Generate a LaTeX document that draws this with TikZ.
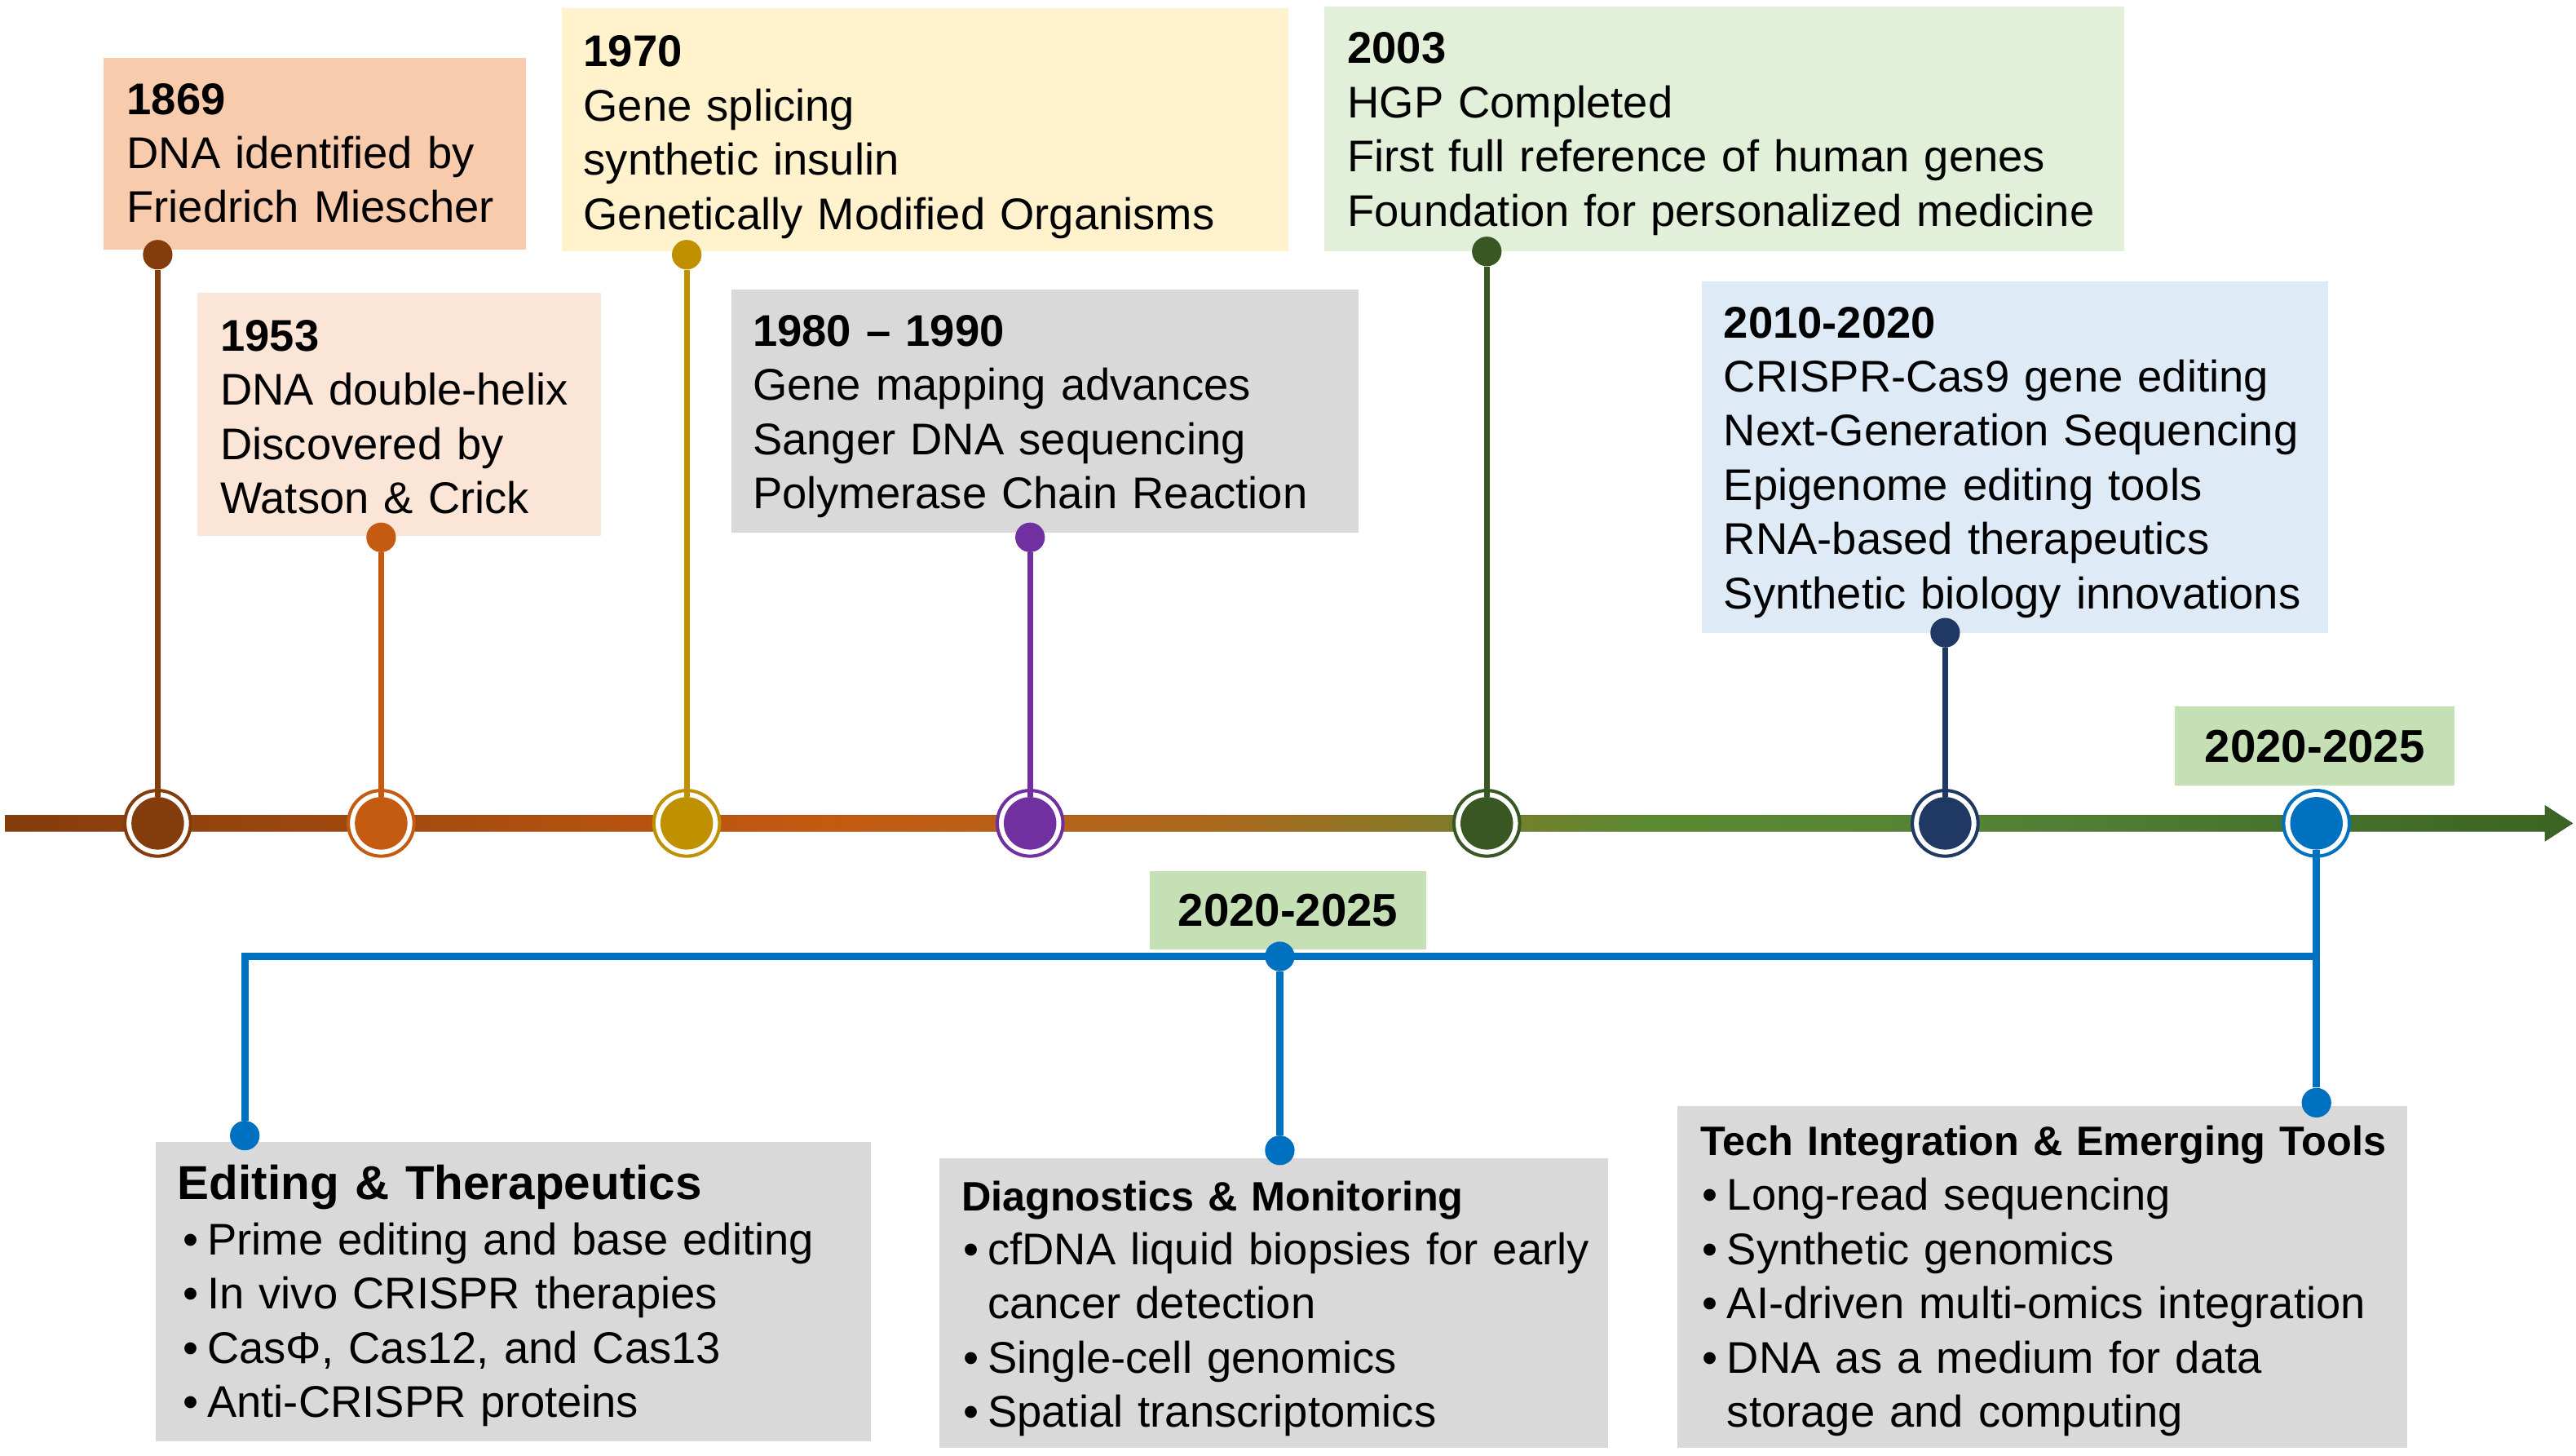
\documentclass[tikz,border=0pt]{standalone}
\usepackage{fontspec}
\setmainfont{Liberation Sans}
\usetikzlibrary{shadings}
\definecolor{cA}{HTML}{843C0C}
\definecolor{cB}{HTML}{C55A11}
\definecolor{cC}{HTML}{BF9000}
\definecolor{cD}{HTML}{7030A0}
\definecolor{cE}{HTML}{385723}
\definecolor{cF}{HTML}{1F3864}
\definecolor{cblue}{HTML}{0070C0}
\definecolor{fA}{HTML}{F8CBAD}
\definecolor{fB}{HTML}{FBE5D6}
\definecolor{fC}{HTML}{FFF2CC}
\definecolor{fD}{HTML}{D9D9D9}
\definecolor{fE}{HTML}{E2F0D9}
\definecolor{fF}{HTML}{DEEBF7}
\definecolor{cyear}{HTML}{C5E0B4}
\definecolor{tlA}{HTML}{843C0C}
\definecolor{tlB}{HTML}{C55A11}
\definecolor{tlC}{HTML}{A86A1E}
\definecolor{tlD}{HTML}{5B8A32}
\definecolor{tlE}{HTML}{548235}
\definecolor{tlF}{HTML}{3B6323}
\pgfdeclarehorizontalshading{tlshade}{100bp}{color(0bp)=(tlA); color(25bp)=(tlA); color(41bp)=(tlB); color(49bp)=(tlC); color(57bp)=(tlD); color(64bp)=(tlE); color(75bp)=(tlF); color(100bp)=(tlF)}
\newcommand\bul{\makebox[15pt][l]{•}}
\begin{document}
\begin{tikzpicture}[x=1pt,y=-1pt,
 box/.style={anchor=north west, inner sep=0pt, outer sep=0pt, draw=none},
 txt/.style={anchor=base west, inner sep=0pt, align=left, text width=520pt, font=\fontsize{27}{33}\selectfont},
 ringn/.style={circle, draw=#1, line width=2pt, fill=white, minimum size=40pt, inner sep=0pt},
 coren/.style={circle, fill=#1, minimum size=32pt, inner sep=0pt},
 tdot/.style={circle, fill=#1, minimum size=18pt, inner sep=0pt},
 stemline/.style={draw=#1, line width=3.5pt},
 blueline/.style={draw=cblue, line width=4.5pt},
 yearlab/.style={fill=cyear, minimum width=170pt, minimum height=48pt, inner sep=0pt, font=\fontsize{28}{33}\selectfont\bfseries},
]
\path[use as bounding box, fill=white] (0,0) rectangle (1568,886);

% upper boxes
\node[box, fill=fA, minimum width=257pt, minimum height=117pt] (bxA) at (63,35) {};
\node[box, fill=fB, minimum width=246pt, minimum height=148pt] (bxB) at (120,178) {};
\node[box, fill=fC, minimum width=442pt, minimum height=148pt] (bxC) at (342,5) {};
\node[box, fill=fD, minimum width=382pt, minimum height=148pt] (bxD) at (445,176) {};
\node[box, fill=fE, minimum width=487pt, minimum height=149pt] (bxE) at (806,4) {};
\node[box, fill=fF, minimum width=381pt, minimum height=214pt] (bxF) at (1036,171) {};

\node[txt] (tA) at (77,69.5) {\textbf{1869}\\DNA identified by\\Friedrich Miescher};
\node[txt] (tB) at (134,213.5) {\textbf{1953}\\DNA double-helix\\Discovered by\\Watson \& Crick};
\node[txt] (tC) at (355,40.5) {\textbf{1970}\\Gene splicing\\synthetic insulin\\Genetically Modified Organisms};
\node[txt] (tD) at (458,210.5) {\textbf{1980 – 1990}\\Gene mapping advances\\Sanger DNA sequencing\\Polymerase Chain Reaction};
\node[txt] (tE) at (820,38.5) {\textbf{2003}\\HGP Completed\\First full reference of human genes\\Foundation for personalized medicine};
\node[txt] (tF) at (1049,205.5) {\textbf{2010-2020}\\CRISPR-Cas9 gene editing\\Next-Generation Sequencing\\Epigenome editing tools\\RNA-based therapeutics\\Synthetic biology innovations};

% year labels
\node[yearlab] (yR) at (1409,454) {2020-2025};
\node[yearlab, minimum width=168pt] (yM) at (784,554) {2020-2025};

% lower boxes
\node[box, fill=fD, minimum width=435pt, minimum height=182pt] (bxG) at (95,695) {};
\node[box, fill=fD, minimum width=407pt, minimum height=176pt] (bxH) at (572,705) {};
\node[box, fill=fD, minimum width=444pt, minimum height=208pt] (bxI) at (1021,673) {};

\node[txt, font=\fontsize{29}{33}\selectfont\bfseries] (gT) at (108,730) {Editing \& Therapeutics};
\node[txt] (gL) at (111,763.5) {\bul Prime editing and base editing\\\bul In vivo CRISPR therapies\\\bul CasΦ, Cas12, and Cas13\\\bul Anti-CRISPR proteins};
\node[txt, font=\fontsize{25}{33}\selectfont\bfseries] (hT) at (585,737) {Diagnostics \& Monitoring};
\node[txt] (hL) at (586,769.5) {\bul cfDNA liquid biopsies for early\\\hspace*{15pt}cancer detection\\\bul Single-cell genomics\\\bul Spatial transcriptomics};
\node[txt, font=\fontsize{25}{33}\selectfont\bfseries] (iT) at (1035,703) {Tech Integration \& Emerging Tools};
\node[txt] (iL) at (1036,736.5) {\bul Long-read sequencing\\\bul Synthetic genomics\\\bul AI-driven multi-omics integration\\\bul DNA as a medium for data\\\hspace*{15pt}storage and computing};

% timeline arrow
\fill[shading=tlshade] (3,496) -- (1549,496) -- (1549,490) -- (1566,501) -- (1549,512) -- (1549,506) -- (3,506) -- cycle;

% markers
\foreach \nm/\xx/\cc in {A/96/cA, B/232/cB, C/418/cC, D/627/cD, E/905/cE, F/1184/cF, G/1410/cblue}{
  \node[ringn=\cc] (r\nm) at (\xx,501) {};
  \node[coren=\cc] (m\nm) at (\xx,501) {};
}

% top dots and stems
\node[tdot=cA] (dA) at (96,155) {};
\node[tdot=cB] (dB) at (232,327) {};
\node[tdot=cC] (dC) at (418,155) {};
\node[tdot=cD] (dD) at (627,327) {};
\node[tdot=cE] (dE) at (905,153) {};
\node[tdot=cF] (dF) at (1184,385) {};
\draw[stemline=cA] (dA) -- (mA);
\draw[stemline=cB] (dB) -- (mB);
\draw[stemline=cC] (dC) -- (mC);
\draw[stemline=cD] (dD) -- (mD);
\draw[stemline=cE] (dE) -- (mE);
\draw[stemline=cF] (dF) -- (mF);

% blue branch
\coordinate (j1) at (1410,582);
\node[tdot=cblue] (b1) at (149,691) {};
\node[tdot=cblue] (b2) at (779,700) {};
\node[tdot=cblue] (b2t) at (779,582) {};
\node[tdot=cblue] (b3) at (1410,671) {};
\draw[blueline] (mG) -- (b3);
\draw[blueline] (j1) -| (b1);
\draw[blueline] (b2t) -- (b2);
\end{tikzpicture}
\end{document}
